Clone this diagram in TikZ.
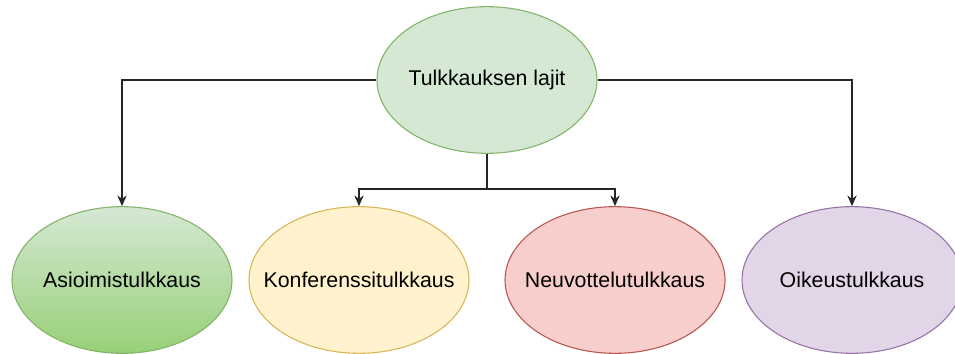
\documentclass[tikz,border=0pt]{standalone}
\usepackage{fontspec}
\setmainfont{Liberation Sans}
\usetikzlibrary{shapes.geometric,arrows.meta}

\definecolor{vihrea}{HTML}{D5E8D4}
\definecolor{vihreaR}{HTML}{82B366}
\definecolor{vihreaT}{HTML}{97D077}
\definecolor{keltainen}{HTML}{FFF2CC}
\definecolor{keltainenR}{HTML}{D6B656}
\definecolor{punainen}{HTML}{F8CECC}
\definecolor{punainenR}{HTML}{B85450}
\definecolor{violetti}{HTML}{E1D5E7}
\definecolor{violettiR}{HTML}{9673A6}

\newcommand{\keski}[1]{\makebox[0pt]{#1}}

\begin{document}
\begin{tikzpicture}[x=0.75pt, y=-0.75pt,
    laji/.style={ellipse, draw, line width=0.8pt, inner sep=0pt, minimum width=165pt, minimum height=110pt, font=\fontsize{16}{19}\selectfont},
    yhteys/.style={line width=1.1pt, draw=black!85},
    nuoli/.style={yhteys, -{Stealth[length=8pt,width=7pt]}}]
			\useasboundingbox (0,0) rectangle (955,353);

			\node[laji, fill=vihrea, draw=vihreaR] (lajit) at (487,80) {\keski{Tulkkauksen lajit}};

			\node[laji, draw=vihreaR, top color=vihrea, bottom color=vihreaT] (asiointi) at (122,280) {\keski{Asioimistulkkaus}};
			\node[laji, fill=keltainen, draw=keltainenR] (konferenssi) at (359,280) {\keski{Konferenssitulkkaus}};
			\node[laji, fill=punainen, draw=punainenR] (neuvottelu) at (615,280) {\keski{Neuvottelutulkkaus}};
			\node[laji, fill=violetti, draw=violettiR] (oikeus) at (852,280) {\keski{Oikeustulkkaus}};

			\coordinate (haara) at (487,189);

			\draw[nuoli] (lajit.west) -| (asiointi.north);
			\draw[nuoli] (lajit.east) -| (oikeus.north);
			\draw[yhteys] (lajit.south) -- (haara);
			\draw[nuoli] (haara) -| (konferenssi.north);
			\draw[nuoli] (haara) -| (neuvottelu.north);

		\end{tikzpicture}
\end{document}
